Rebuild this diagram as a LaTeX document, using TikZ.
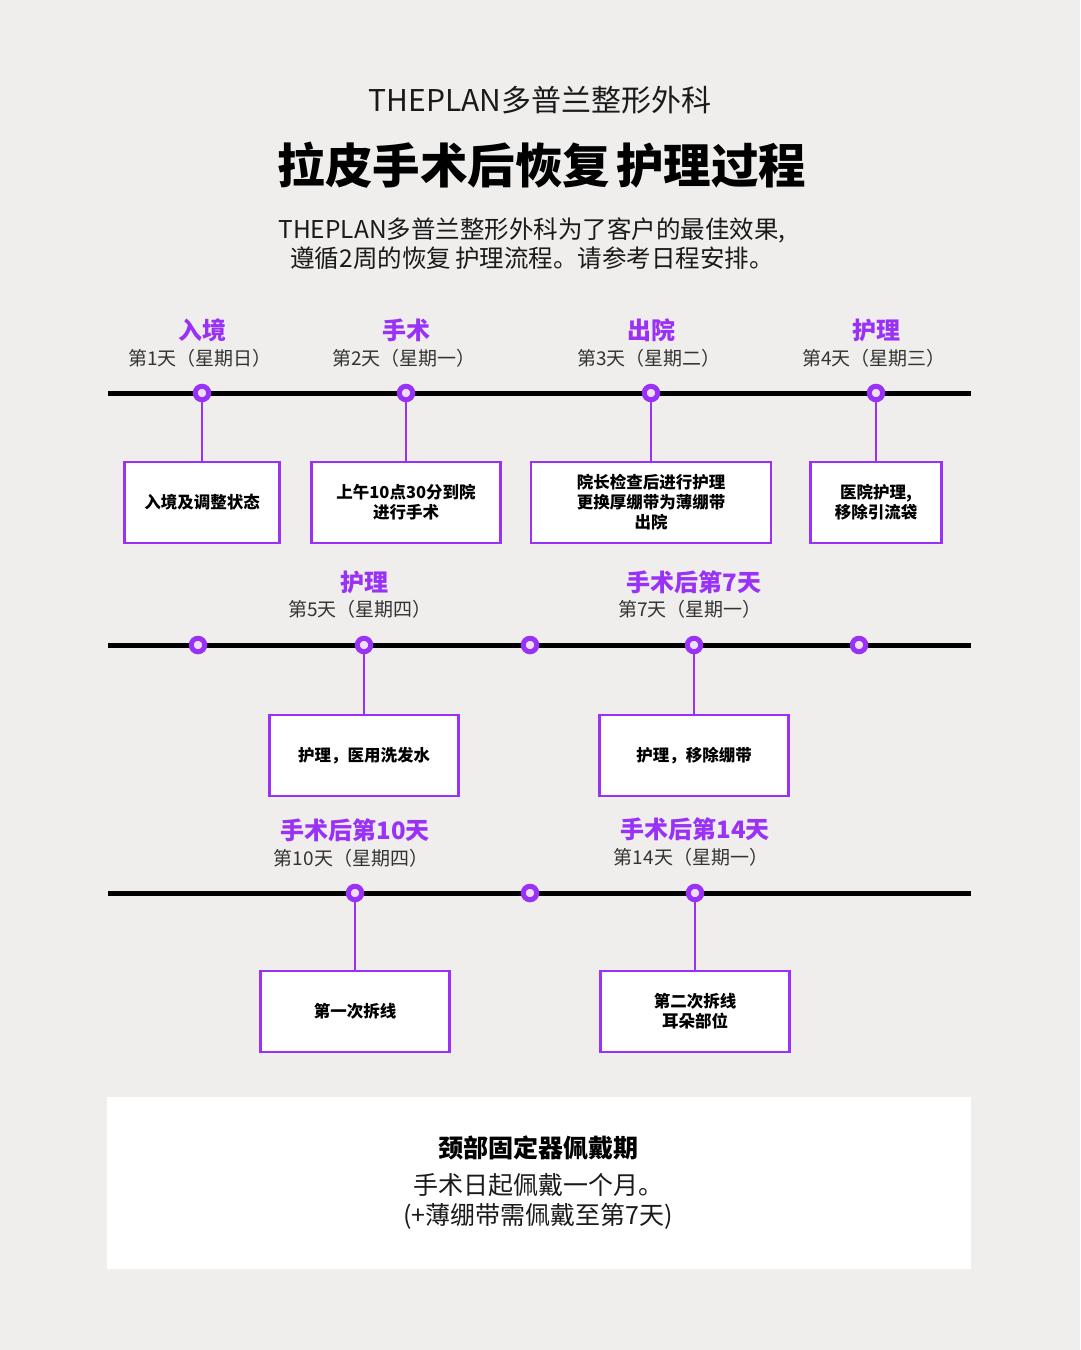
\documentclass[tikz,border=0pt]{standalone}
\usepackage{fontspec}
\setmainfont{Noto Sans CJK SC}
\definecolor{bg}{HTML}{EFEEED}
\definecolor{pur}{HTML}{9A31F6}
\definecolor{lav}{HTML}{EEDDFF}
\definecolor{ink}{HTML}{1A1A1A}
\definecolor{daygray}{HTML}{333333}
\tikzset{
  tline/.style={line width=5pt, black},
  tdot/.style={circle, draw=pur, fill=lav, line width=5pt, minimum size=13.5pt, inner sep=0pt},
  conn/.style={draw=pur, line width=2pt},
  evbox/.style={draw=pur, fill=white, line width=2.2pt, align=center, inner sep=0pt,
    text=black, font=\bfseries\fontsize{16.5}{20}\selectfont},
  evt/.style={text=pur, inner sep=0pt, font=\bfseries\fontsize{24}{28}\selectfont},
  day/.style={text=daygray, inner sep=0pt, font=\fontsize{19}{22}\selectfont},
}
\begin{document}
\begin{tikzpicture}[x=1pt,y=-1pt]
\fill[bg] (0,0) rectangle (1080,1350);
\useasboundingbox (0,0) rectangle (1080,1350);

% header
\node[text=ink, inner sep=0pt, font=\fontsize{30}{34}\selectfont] (hdr) at (540,100) {THEPLAN多普兰整形外科};
\node[text=black, inner sep=0pt, font=\bfseries\fontsize{47.5}{52}\selectfont] (title) at (542,165) {拉皮手术后恢复\hspace{6pt}护理过程};
\node[text=ink, inner sep=0pt, align=center, font=\fontsize{24.5}{29}\selectfont] (sub) at (532,244)
  {THEPLAN多普兰整形外科为了客户的最佳效果,\\遵循2周的恢复\hspace{4pt}护理流程。请参考日程安排。};

% ---------- timeline 1 ----------
\coordinate (l1a) at (108,393);
\coordinate (l1b) at (971,393);
\draw[tline] (l1a) -- (l1b);
\node[tdot] (d11) at (202,393) {};
\node[tdot] (d12) at (406,393) {};
\node[tdot] (d13) at (651,393) {};
\node[tdot] (d14) at (876,393) {};

\node[evt] (e11) at (202,330) {入境};
\node[day] (t11) at (200,358) {第1天（星期日）};
\node[evt] (e12) at (406,330) {手术};
\node[day] (t12) at (404,358) {第2天（星期一）};
\node[evt] (e13) at (651,330) {出院};
\node[day] (t13) at (649,358) {第3天（星期二）};
\node[evt] (e14) at (876,330) {护理};
\node[day] (t14) at (874,358) {第4天（星期三）};

\node[evbox, minimum width=155pt, minimum height=81pt] (b11) at (202,502.5) {入境及调整状态};
\node[evbox, minimum width=189pt, minimum height=81pt] (b12) at (406,502.5) {上午10点30分到院\\进行手术};
\node[evbox, minimum width=240pt, minimum height=81pt] (b13) at (651,502.5) {院长检查后进行护理\\更换厚绷带为薄绷带\\出院};
\node[evbox, minimum width=131pt, minimum height=81pt] (b14) at (876,502.5) {医院护理,\\移除引流袋};

\draw[conn] (d11) -- (b11);
\draw[conn] (d12) -- (b12);
\draw[conn] (d13) -- (b13);
\draw[conn] (d14) -- (b14);

% ---------- timeline 2 ----------
\coordinate (l2a) at (108,645);
\coordinate (l2b) at (971,645);
\draw[tline] (l2a) -- (l2b);
\node[tdot] (d21) at (198,645) {};
\node[tdot] (d22) at (364,645) {};
\node[tdot] (d23) at (530,645) {};
\node[tdot] (d24) at (694,645) {};
\node[tdot] (d25) at (859,645) {};

\node[evt] (e22) at (364,582) {护理};
\node[day] (t22) at (360,609) {第5天（星期四）};
\node[evt] (e24) at (694,582) {手术后第7天};
\node[day] (t24) at (690,609) {第7天（星期一）};

\node[evbox, minimum width=189pt, minimum height=81pt] (b22) at (364,755.5) {护理，医用洗发水};
\node[evbox, minimum width=189pt, minimum height=81pt] (b24) at (694,755.5) {护理，移除绷带};

\draw[conn] (d22) -- (b22);
\draw[conn] (d24) -- (b24);

% ---------- timeline 3 ----------
\coordinate (l3a) at (108,893);
\coordinate (l3b) at (971,893);
\draw[tline] (l3a) -- (l3b);
\node[tdot] (d31) at (355,893) {};
\node[tdot] (d32) at (530,893) {};
\node[tdot] (d33) at (695,893) {};

\node[evt] (e31) at (355,830) {手术后第10天};
\node[day] (t31) at (351,858) {第10天（星期四）};
\node[evt] (e33) at (695,829) {手术后第14天};
\node[day] (t33) at (691,857) {第14天（星期一）};

\node[evbox, minimum width=189pt, minimum height=81pt] (b31) at (355,1011.5) {第一次拆线};
\node[evbox, minimum width=189pt, minimum height=81pt] (b33) at (695,1011.5) {第二次拆线\\耳朵部位};

\draw[conn] (d31) -- (b31);
\draw[conn] (d33) -- (b33);

% ---------- bottom note ----------
\node[fill=white, draw=none, minimum width=864pt, minimum height=172pt, inner sep=0pt] (note) at (539,1183) {};
\node[text=black, inner sep=0pt, font=\bfseries\fontsize{25}{28}\selectfont] (nt) at (538,1148) {颈部固定器佩戴期};
\node[text=ink, inner sep=0pt, align=center, font=\fontsize{25}{30}\selectfont] (nb) at (538,1201)
  {手术日起佩戴一个月。\\(+薄绷带需佩戴至第7天)};
\end{tikzpicture}
\end{document}
